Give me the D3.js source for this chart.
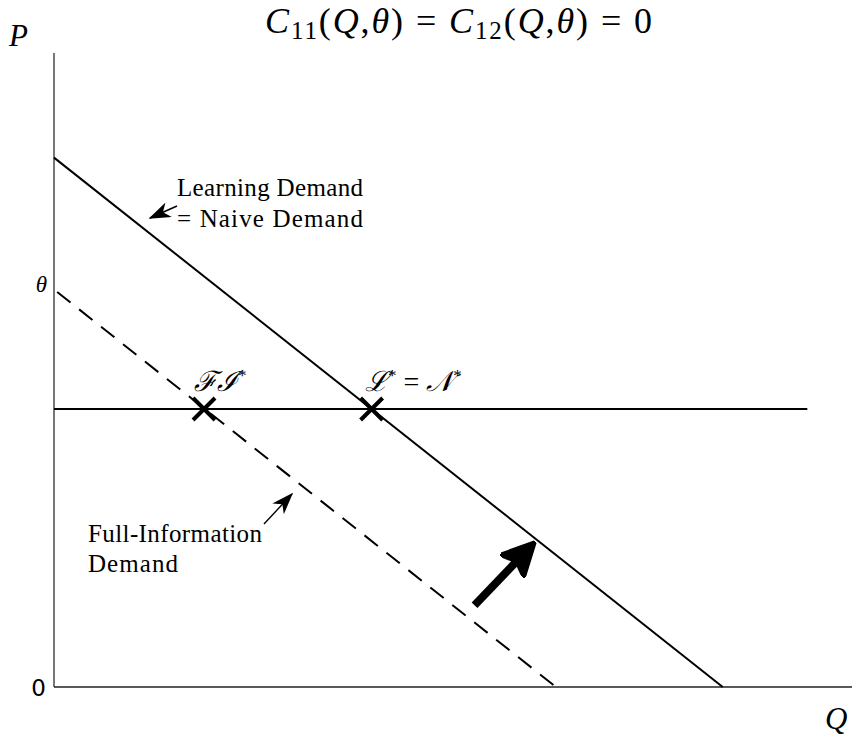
<!DOCTYPE html>
<html>
<head>
<meta charset="utf-8">
<script src="https://cdn.jsdelivr.net/npm/d3@7"></script>
<style>
  html, body { margin: 0; padding: 0; background: #fff; }
  svg { display: block; }
  .serif { font-family: "Liberation Serif", "DejaVu Serif", serif; }
</style>
</head>
<body>
<svg id="chart" width="852" height="739"></svg>
<script>
// Demand schedules: [Q, P] endpoints on the axes
const learningDemand = [[0, 0.835], [0.838, 0]];      // = naive demand
const fullInfoDemand = [[0.004, 0.623], [0.629, 0]];
// Market price line
const priceLevel = 0.4385;
const priceQRange = [0, 0.944];
// Equilibria (Q where each demand meets the price line)
const equilibria = [
  { name: "fi", q: 0.188 },
  { name: "ln", q: 0.398 }
];
// Shift arrow from full-info demand towards learning demand
const shiftArrow = [[0.527, 0.129], [0.597, 0.221]];
// Axis tick labels
const yTickLabels = [{ v: 0, text: "0" }];
const thetaValue = 0.623;

const svg = d3.select("#chart");
const x = d3.scaleLinear().domain([0, 1]).range([54, 852]);
const y = d3.scaleLinear().domain([0, 1]).range([687, 53]);
const line = d3.line().x(d => x(d[0])).y(d => y(d[1]));

const defs = svg.append("defs");
defs.append("marker")
  .attr("id", "head-thin").attr("viewBox", "0 0 14 10")
  .attr("refX", 13).attr("refY", 5)
  .attr("markerWidth", 22).attr("markerHeight", 15.7)
  .attr("markerUnits", "userSpaceOnUse").attr("orient", "auto")
  .append("path").attr("d", "M0,0 L14,5 L0,10 L4,5 Z").attr("fill", "#000");
defs.append("marker")
  .attr("id", "head-thick").attr("viewBox", "0 0 10 10")
  .attr("refX", 8).attr("refY", 5)
  .attr("markerWidth", 34).attr("markerHeight", 34)
  .attr("markerUnits", "userSpaceOnUse").attr("orient", "auto")
  .append("path").attr("d", "M0,0 L10,5 L0,10 L2,5 Z")
  .attr("fill", "#000").attr("stroke", "#000").attr("stroke-width", 1).attr("stroke-linejoin", "round");

// Axes
svg.append("line").attr("x1", x(0)).attr("x2", x(0)).attr("y1", y(1)).attr("y2", y(0))
  .attr("stroke", "#555").attr("stroke-width", 1.6);
svg.append("line").attr("x1", x(0)).attr("x2", x(1)).attr("y1", y(0)).attr("y2", y(0))
  .attr("stroke", "#222").attr("stroke-width", 1.6);

// Price line
svg.append("path").attr("d", line(priceQRange.map(q => [q, priceLevel])))
  .attr("fill", "none").attr("stroke", "#000").attr("stroke-width", 2);

// Demand curves
svg.append("path").attr("d", line(learningDemand))
  .attr("fill", "none").attr("stroke", "#000").attr("stroke-width", 2);
svg.append("path").attr("d", line(fullInfoDemand))
  .attr("fill", "none").attr("stroke", "#000").attr("stroke-width", 2)
  .attr("stroke-dasharray", "17,11");

// Equilibrium crosses
equilibria.forEach(e => {
  const cx = x(e.q), cy = y(priceLevel), s = 11;
  svg.append("path")
    .attr("d", `M${cx - s},${cy - s}L${cx + s},${cy + s}M${cx - s},${cy + s}L${cx + s},${cy - s}`)
    .attr("stroke", "#000").attr("stroke-width", 4);
});

// Shift arrow
svg.append("path").attr("d", line(shiftArrow))
  .attr("stroke", "#000").attr("stroke-width", 8).attr("fill", "none")
  .attr("marker-end", "url(#head-thick)");

// Annotation arrows
svg.append("line").attr("x1", 177).attr("y1", 206).attr("x2", 150).attr("y2", 218)
  .attr("stroke", "#000").attr("stroke-width", 1.4).attr("marker-end", "url(#head-thin)");
svg.append("line").attr("x1", 264).attr("y1", 524).attr("x2", 292).attr("y2", 494)
  .attr("stroke", "#000").attr("stroke-width", 1.4).attr("marker-end", "url(#head-thin)");

// Text helpers
function txt(xp, yp, size, len) {
  const t = svg.append("text").attr("class", "serif").attr("x", xp).attr("y", yp)
    .attr("font-size", size).attr("fill", "#000");
  if (len) t.attr("textLength", len).attr("lengthAdjust", "spacing");
  return t;
}

// Title
const title = txt(265, 33, 36, 387);
title.append("tspan").attr("font-style", "italic").text("C");
title.append("tspan").attr("font-size", 25).attr("dy", 6).text("11");
title.append("tspan").attr("dy", -6).text("(");
title.append("tspan").attr("font-style", "italic").text("Q");
title.append("tspan").text(",");
title.append("tspan").attr("font-style", "italic").text("θ");
title.append("tspan").text(") = ");
title.append("tspan").attr("font-style", "italic").text("C");
title.append("tspan").attr("font-size", 25).attr("dy", 6).text("12");
title.append("tspan").attr("dy", -6).text("(");
title.append("tspan").attr("font-style", "italic").text("Q");
title.append("tspan").text(",");
title.append("tspan").attr("font-style", "italic").text("θ");
title.append("tspan").text(") = 0");

// Axis labels
txt(9, 46, 31).attr("font-style", "italic").text("P");
txt(825, 729, 31).attr("font-style", "italic").text("Q");
txt(47, y(thetaValue), 23).attr("font-style", "italic").attr("text-anchor", "end").text("θ");
yTickLabels.forEach(d => {
  svg.append("text").attr("x", 46).attr("y", y(d.v) + 9).attr("text-anchor", "end")
    .attr("font-family", "DejaVu Sans, sans-serif").attr("font-size", 23).text(d.text);
});

// Curve labels
txt(177, 196, 25, 186).text("Learning Demand");
txt(177, 227, 25, 186).text("= Naive Demand");
txt(88, 542, 25, 174).text("Full-Information");
txt(88, 572, 25, 90).text("Demand");

// Equilibrium labels
const fi = txt(194, 391, 28).attr("font-style", "italic");
fi.append("tspan").text("ℱℐ");
fi.append("tspan").attr("font-size", 17).attr("dy", -10).attr("font-style", "normal").text("*");
const ln = txt(365, 391, 28).attr("font-style", "italic");
ln.append("tspan").text("ℒ");
ln.append("tspan").attr("font-size", 17).attr("dy", -10).attr("font-style", "normal").text("*");
ln.append("tspan").attr("dy", 10).attr("font-style", "normal").text(" = ");
ln.append("tspan").text("𝒩");
ln.append("tspan").attr("font-size", 17).attr("dy", -10).attr("font-style", "normal").text("*");
</script>
</body>
</html>
